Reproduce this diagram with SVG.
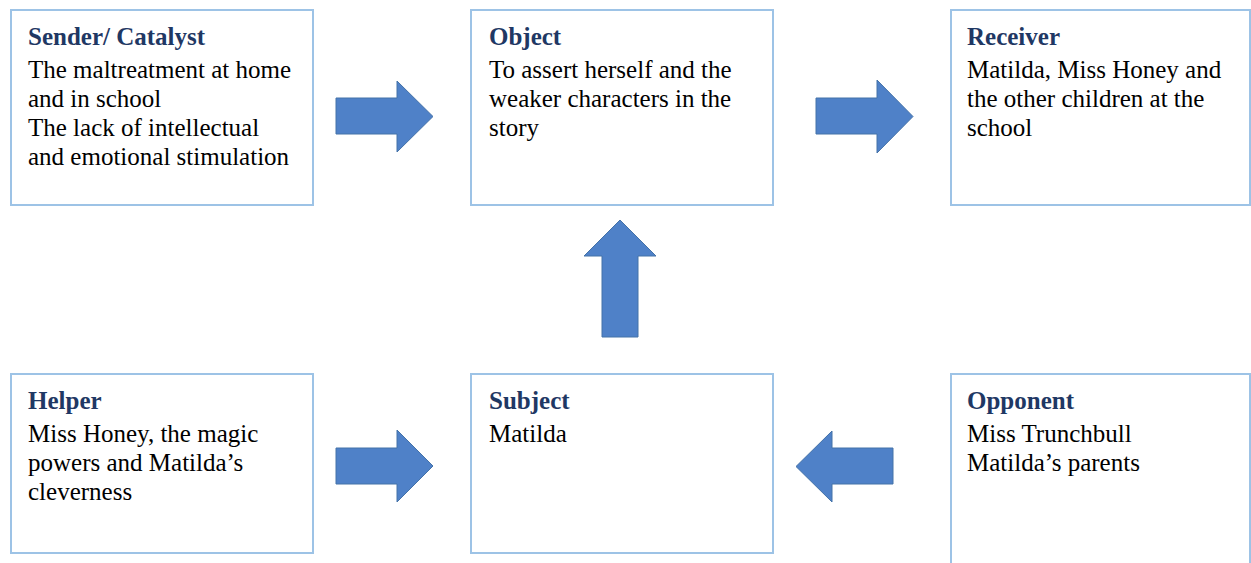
<svg xmlns="http://www.w3.org/2000/svg" width="1251" height="563" viewBox="0 0 1251 563">
<style>
.box{fill:#fff;stroke:#9DC3E6;stroke-width:2}
.arr{fill:#4F81C8;stroke:#4472A8;stroke-width:1}
</style>
<rect width="1251" height="563" fill="#fff"/>
<g id="sender">
<rect class="box" x="11" y="10" width="302" height="195"/>
<text x="28" y="78" style="font-family:'Times New Roman','Liberation Serif',serif;font-size:25px">The maltreatment at home</text>
<text x="28" y="107" style="font-family:'Times New Roman','Liberation Serif',serif;font-size:25px">and in school</text>
<text x="28" y="136" style="font-family:'Times New Roman','Liberation Serif',serif;font-size:25px">The lack of intellectual</text>
<text x="28" y="165" style="font-family:'Times New Roman','Liberation Serif',serif;font-size:25px">and emotional stimulation</text>
<text x="28" y="45" style="font-family:'Times New Roman','Liberation Serif',serif;font-size:25px;font-weight:bold;fill:#1F3864">Sender/ Catalyst</text>
</g>
<g id="object">
<rect class="box" x="471" y="10" width="302" height="195"/>
<text x="489" y="78" style="font-family:'Times New Roman','Liberation Serif',serif;font-size:25px">To assert herself and the</text>
<text x="489" y="107" style="font-family:'Times New Roman','Liberation Serif',serif;font-size:25px">weaker characters in the</text>
<text x="489" y="136" style="font-family:'Times New Roman','Liberation Serif',serif;font-size:25px">story</text>
<text x="489" y="45" style="font-family:'Times New Roman','Liberation Serif',serif;font-size:25px;font-weight:bold;fill:#1F3864">Object</text>
</g>
<g id="receiver">
<rect class="box" x="951" y="10" width="299" height="195"/>
<text x="967" y="78" style="font-family:'Times New Roman','Liberation Serif',serif;font-size:25px">Matilda, Miss Honey and</text>
<text x="967" y="107" style="font-family:'Times New Roman','Liberation Serif',serif;font-size:25px">the other children at the</text>
<text x="967" y="136" style="font-family:'Times New Roman','Liberation Serif',serif;font-size:25px">school</text>
<text x="967" y="45" style="font-family:'Times New Roman','Liberation Serif',serif;font-size:25px;font-weight:bold;fill:#1F3864">Receiver</text>
</g>
<g id="helper">
<rect class="box" x="11" y="374" width="302" height="179"/>
<text x="28" y="442" style="font-family:'Times New Roman','Liberation Serif',serif;font-size:25px">Miss Honey, the magic</text>
<text x="28" y="471" style="font-family:'Times New Roman','Liberation Serif',serif;font-size:25px">powers and Matilda’s</text>
<text x="28" y="500" style="font-family:'Times New Roman','Liberation Serif',serif;font-size:25px">cleverness</text>
<text x="28" y="409" style="font-family:'Times New Roman','Liberation Serif',serif;font-size:25px;font-weight:bold;fill:#1F3864">Helper</text>
</g>
<g id="subject">
<rect class="box" x="471" y="374" width="302" height="179"/>
<text x="489" y="442" style="font-family:'Times New Roman','Liberation Serif',serif;font-size:25px">Matilda</text>
<text x="489" y="409" style="font-family:'Times New Roman','Liberation Serif',serif;font-size:25px;font-weight:bold;fill:#1F3864">Subject</text>
</g>
<g id="opponent">
<rect class="box" x="951" y="374" width="299" height="200"/>
<text x="967" y="442" style="font-family:'Times New Roman','Liberation Serif',serif;font-size:25px">Miss Trunchbull</text>
<text x="967" y="471" style="font-family:'Times New Roman','Liberation Serif',serif;font-size:25px">Matilda’s parents</text>
<text x="967" y="409" style="font-family:'Times New Roman','Liberation Serif',serif;font-size:25px;font-weight:bold;fill:#1F3864">Opponent</text>
</g>
<g id="connectors">
<polygon class="arr" points="336,98 397,98 397,81 433,116.5 397,152 397,134 336,134"/>
<polygon class="arr" points="816,98 877,98 877,80 913,116.5 877,153 877,134 816,134"/>
<polygon class="arr" points="602,337 602,256 584,256 620,220 656,256 638,256 638,337"/>
<polygon class="arr" points="336,448 397,448 397,430 433,466 397,502 397,484 336,484"/>
<polygon class="arr" points="893,448 832,448 832,431 796,466.5 832,502 832,484 893,484"/>
</g>
</svg>
